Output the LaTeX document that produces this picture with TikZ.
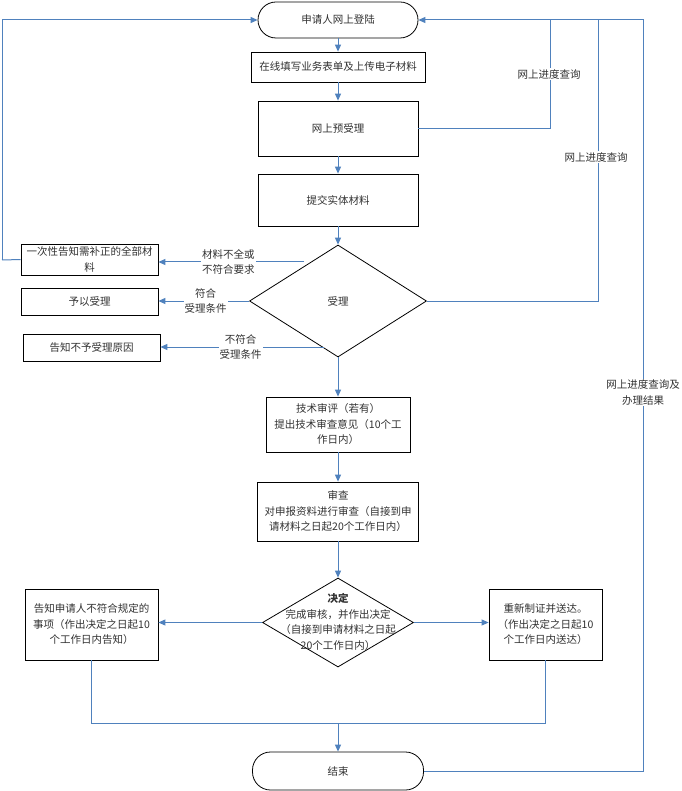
\documentclass[tikz,border=0pt]{standalone}
\usepackage{fontspec}
\newfontfamily\cjk{Noto Sans CJK SC}
\usetikzlibrary{arrows.meta,shapes.geometric}
\definecolor{lineblue}{RGB}{79,129,189}
\definecolor{txt}{RGB}{50,50,50}
\begin{document}
\begin{tikzpicture}[x=1pt,y=-1pt,
  every node/.style={font=\cjk\fontsize{10.5}{15.5}\selectfont, text=txt, inner sep=0pt, align=center},
  box/.style={draw=black, line width=0.8pt, rectangle},
  term/.style={draw=black, line width=0.8pt, rectangle, rounded corners=18pt},
  dia/.style={draw=black, line width=0.8pt, diamond},
  conn/.style={draw=lineblue, line width=1pt},
  arr/.style={conn, -{Triangle[length=7pt,width=6pt]}},
  lab/.style={fill=white, inner sep=1pt}]
\useasboundingbox (0,0) rectangle (681,791);
\fill[white] (0,0) rectangle (681,791);

% nodes
\node[term, minimum width=160pt, minimum height=36pt] (start) at (338,20) {申请人网上登陆};
\node[box, minimum width=174pt, minimum height=30pt] (b1) at (338,67) {在线填写业务表单及上传电子材料};
\node[box, minimum width=160pt, minimum height=55pt] (b2) at (338,128.5) {网上预受理};
\node[box, minimum width=160pt, minimum height=52pt] (b3) at (338,200) {提交实体材料};
\node[dia, minimum width=177pt, minimum height=112pt] (d1) at (338,301) {};
\node (d1t) at (338,301) {受理};
\node[box, minimum width=137pt, minimum height=31pt] (n1) at (89.5,259.5) {一次性告知需补正的全部材\\料};
\node[box, minimum width=137pt, minimum height=27pt] (n2) at (89.5,301.5) {予以受理};
\node[box, minimum width=137pt, minimum height=27pt] (n3) at (91.5,347.5) {告知不予受理原因};
\node[box, minimum width=144pt, minimum height=55pt] (b4) at (338,424.5) {技术审评（若有）\\提出技术审查意见（10个工\\作日内）};
\node[box, minimum width=161pt, minimum height=59pt] (b5) at (338,511.5) {审查\\对申报资料进行审查（自接到申\\请材料之日起20个工作日内）};
\node[dia, minimum width=151pt, minimum height=89pt] (d2) at (338,622.5) {};
\node (d2t) at (338,622) {\textbf{决定}\\完成审核，并作出决定\\（自接到申请材料之日起\\20个工作日内）};
\node[box, minimum width=133pt, minimum height=71pt] (L) at (91.5,624.5) {告知申请人不符合规定的\\事项（作出决定之日起10\\个工作日内告知）};
\node[box, minimum width=113pt, minimum height=71pt] (R) at (545.5,624.5) {重新制证并送达。\\（作出决定之日起10\\个工作日内送达）};
\node[term, minimum width=171pt, minimum height=38pt] (end) at (338,771) {结束};

% helper coordinates
\coordinate (lefttop) at (2,20);
\coordinate (leftbot) at (2,260);
\coordinate (q1) at (550,20);
\coordinate (q2) at (598,20);
\coordinate (q3) at (643,20);
\coordinate (s1) at (304,262);
\coordinate (s3) at (324,347);
\coordinate (m) at (338,723);

% main flow
\draw[arr] (start.south) -- (b1.north);
\draw[arr] (b1.south) -- (b2.north);
\draw[arr] (b2.south) -- (b3.north);
\draw[arr] (b3.south) -- (d1.north);
\draw[arr] (d1.south) -- (b4.north);
\draw[arr] (b4.south) -- (b5.north);
\draw[arr] (b5.south) -- (d2.north);
\draw[arr] (d2.west) -- (d2.west -| L.east);
\draw[arr] (d2.east) -- (d2.east -| R.west);
\draw[conn] (L.south) |- (m);
\draw[conn] (R.south) |- (m);
\draw[arr] (m) -- (end.north);

% side branches of 受理
\draw[arr] (s1) -- (s1 -| n1.east) node[lab, pos=0.52] {材料不全或\\不符合要求};
\draw[arr] (d1.west) -- (d1.west -| n2.east) node[lab, pos=0.48] {符合\\受理条件};
\draw[arr] (s3) -- (s3 -| n3.east) node[lab, pos=0.51] {不符合\\受理条件};

% feedback loops
\draw[conn] (n1.west) -- (leftbot);
\draw[arr] (leftbot) -- (lefttop) -- (start.west);
\draw[conn] (b2.east) -| (q1);
\draw[conn] (d1.east) -| (q2);
\draw[arr] (end.east) -| (q3) -- (start.east);

% loop labels
\node[lab] (l1) at (549,74) {网上进度查询};
\node[lab] (l2) at (596,157) {网上进度查询};
\node[lab] (l3) at (643,392.5) {网上进度查询及\\办理结果};
\end{tikzpicture}
\end{document}
